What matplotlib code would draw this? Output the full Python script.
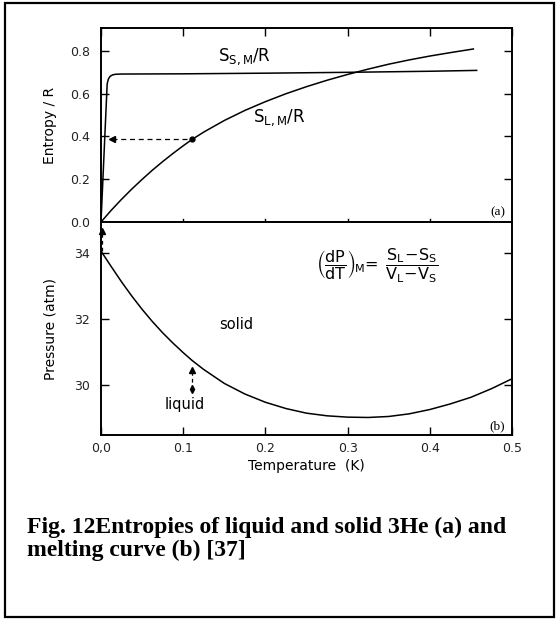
import matplotlib
matplotlib.use("Agg")
import matplotlib.pyplot as plt
from matplotlib.patches import Rectangle

# entropy of solid 3He along the melting curve (S/R)
temp_solid = [0.0, 0.0075, 0.009, 0.011, 0.014, 0.018, 0.025, 0.1, 0.2, 0.3, 0.4, 0.457]
s_solid = [0.0, 0.645, 0.668, 0.680, 0.687, 0.690, 0.691, 0.692, 0.695, 0.699, 0.704, 0.708]

# entropy of liquid 3He along the melting curve (S/R)
temp_liquid = [0.0, 0.0125, 0.025, 0.0375, 0.05, 0.0625, 0.075, 0.0875, 0.1, 0.111, 0.125,
               0.15, 0.175, 0.2, 0.225, 0.25, 0.275, 0.3, 0.325, 0.35, 0.375, 0.4, 0.425, 0.453]
s_liquid = [0.0, 0.055, 0.106, 0.154, 0.199, 0.242, 0.282, 0.320, 0.356, 0.386, 0.420,
            0.474, 0.521, 0.562, 0.599, 0.632, 0.662, 0.689, 0.714, 0.737, 0.757, 0.775, 0.791, 0.808]

# melting pressure (atm)
temp_melt = [0.0, 0.0125, 0.025, 0.0375, 0.05, 0.0625, 0.075, 0.0875, 0.1, 0.111, 0.125,
             0.15, 0.175, 0.2, 0.225, 0.25, 0.275, 0.3, 0.325, 0.35, 0.375, 0.4, 0.425, 0.45, 0.475, 0.5]
p_melt = [34.05, 33.58, 33.12, 32.69, 32.29, 31.92, 31.58, 31.27, 30.98, 30.74, 30.47,
          30.05, 29.73, 29.48, 29.29, 29.15, 29.07, 29.03, 29.02, 29.05, 29.13, 29.26, 29.43, 29.63, 29.89, 30.19]

x_ticks = [0.0, 0.1, 0.2, 0.3, 0.4, 0.5]
x_ticklabels = ["0,0", "0.1", "0.2", "0.3", "0.4", "0.5"]
s_ticks = [0.0, 0.2, 0.4, 0.6, 0.8]
p_ticks = [30, 32, 34]

plt.rcParams["font.family"] = "DejaVu Sans"
plt.rcParams["mathtext.fontset"] = "dejavusans"

W, H = 557, 619
fig = plt.figure(figsize=(W / 100, H / 100), dpi=100)

def box(l, t, r, b):
    return [l / W, 1 - b / H, (r - l) / W, (b - t) / H]

ax1 = fig.add_axes(box(101, 28, 512, 222))
ax2 = fig.add_axes(box(101, 222, 512, 435))

lw_curve = 1.1
tick_color = "#222222"

# (a) entropies
ax1.plot(temp_solid, s_solid, color="black", lw=lw_curve)
ax1.plot(temp_liquid, s_liquid, color="black", lw=lw_curve)
ax1.plot([0.013, 0.111], [0.386, 0.386], color="black", lw=0.9, ls=(0, (4, 3)))
ax1.plot([0.013], [0.386], marker="<", ms=4, color="black")
ax1.plot([0.111], [0.386], marker="o", ms=3.5, color="black")
ax1.text(0.142, 0.77, r"S$_{\mathrm{S,M}}$/R", fontsize=12, va="center", ha="left")
ax1.text(0.185, 0.486, r"S$_{\mathrm{L,M}}$/R", fontsize=12, va="center", ha="left")
ax1.text(0.492, 0.045, "(a)", fontsize=9.5, family="Liberation Serif", ha="right", va="center")

ax1.set_xlim(0, 0.5)
ax1.set_ylim(0, 0.906)
ax1.set_xticks(x_ticks)
ax1.set_xticklabels([])
ax1.set_yticks(s_ticks)
ax1.set_yticklabels(["%.1f" % v for v in s_ticks])
ax1.set_ylabel("Entropy / R", fontsize=10)
ax1.yaxis.set_label_coords(-0.107, 0.5)
ax1.tick_params(axis="both", direction="in", length=6, width=1, top=True, right=True,
                labelsize=9, labelcolor=tick_color, pad=8)
ax1.tick_params(axis="x", which="both", bottom=False)
for x in x_ticks[1:-1]:
    ax1.plot([x, x], [-0.015, 0.015], color="black", lw=1, clip_on=False)

# (b) melting curve
ax2.plot(temp_melt, p_melt, color="black", lw=lw_curve)
ax2.plot([0.111, 0.111], [29.87, 30.45], color="black", lw=0.9, ls=(0, (3, 2.5)))
ax2.plot([0.111], [30.45], marker="^", ms=4, color="black")
ax2.plot([0.111], [29.87], marker="d", ms=4, color="black")
ax2.plot([0.001, 0.001], [34.05, 34.62], color="black", lw=0.9, ls=(0, (3, 2.5)), clip_on=False)
ax2.plot([0.001], [34.66], marker="^", ms=4, color="black", clip_on=False)

ax2.text(0.164, 31.84, "solid", fontsize=10.5, ha="center", va="center")
ax2.text(0.102, 29.41, "liquid", fontsize=10.5, ha="center", va="center")
ax2.text(0.262, 33.62,
         r"$\left(\dfrac{\mathrm{dP}}{\mathrm{dT}}\right)_{\!\mathrm{M}}\!=\;\dfrac{\mathrm{S_L\!-\!S_S}}{\mathrm{V_L\!-\!V_S}}$",
         fontsize=11.5, ha="left", va="center")
ax2.text(0.492, 28.74, "(b)", fontsize=9.5, family="Liberation Serif", ha="right", va="center")

ax2.set_xlim(0, 0.5)
ax2.set_ylim(28.49, 34.93)
ax2.set_xticks(x_ticks)
ax2.set_xticklabels(x_ticklabels)
ax2.set_yticks(p_ticks)
ax2.set_ylabel("Pressure (atm)", fontsize=10)
ax2.yaxis.set_label_coords(-0.107, 0.5)
ax2.set_xlabel("Temperature  (K)", fontsize=10, labelpad=3)
ax2.tick_params(axis="both", direction="in", length=6, width=1, right=True,
                labelsize=9, labelcolor=tick_color, pad=8)
ax2.tick_params(axis="x", top=False, pad=5)

for ax in (ax1, ax2):
    for sp in ax.spines.values():
        sp.set_linewidth(1.4)

# outer frame
fig.add_artist(Rectangle((5 / W, 1 - 617 / H), 549 / W, 614 / H, transform=fig.transFigure,
                         fill=False, lw=1.6, edgecolor="black"))

cap_kw = dict(family="Liberation Serif", weight="bold", fontsize=17, va="baseline", ha="left")
fig.text(27 / W, 1 - 533 / H, "Fig. 12Entropies of liquid and solid 3He (a) and", **cap_kw)
fig.text(27 / W, 1 - 556 / H, "melting curve (b) [37]", **cap_kw)

fig.savefig("out.png", dpi=100)
